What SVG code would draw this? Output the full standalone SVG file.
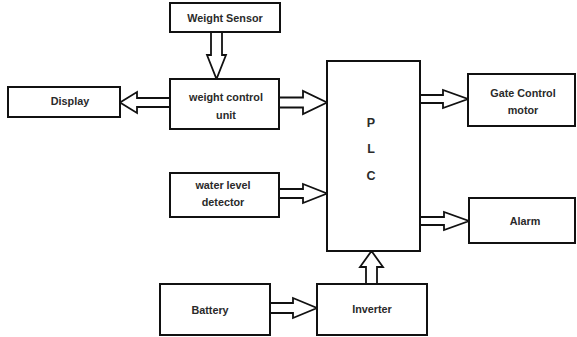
<svg xmlns="http://www.w3.org/2000/svg" width="577" height="337" viewBox="0 0 577 337">
<style>
.box{fill:#fff;stroke:#111;stroke-width:2}
.arr{fill:#fff;stroke:#111;stroke-width:1.8;stroke-linejoin:miter}
text{font-family:"Liberation Sans",Arial,sans-serif;font-weight:bold;font-size:10.8px;fill:#2a2a2a;text-anchor:middle}
.plc{font-size:12.5px}
</style>
<rect width="577" height="337" fill="#fff"/>
<g id="connectors">
<polygon class="arr" points="211,32 222,32 222,55 226,55 216.5,79 207,55 211,55"/>
<polygon class="arr" points="170,98 137,98 137,92 120,102.5 137,113 137,107 170,107"/>
<polygon class="arr" points="279,97.5 303,97.5 303,91 327,102.5 303,114 303,107.5 279,107.5"/>
<polygon class="arr" points="420,95 443,95 443,90 468,99 443,108 443,103 420,103"/>
<polygon class="arr" points="420,217 444,217 444,212 469,221 444,230 444,225 420,225"/>
<polygon class="arr" points="279,189 303,189 303,184 327,193.5 303,203 303,198 279,198"/>
<polygon class="arr" points="270,303 293,303 293,298 317,308 293,318 293,313 270,313"/>
<polygon class="arr" points="366,284 366,267 360,267 371.5,251 383,267 377,267 377,284"/>
</g>
<g id="weight-sensor"><rect class="box" x="170" y="3" width="110" height="29"/><text x="225" y="21.5">Weight Sensor</text></g>
<g id="weight-control-unit"><rect class="box" x="170" y="79" width="109" height="50"/><text x="226" y="100.5">weight control</text><text x="226" y="118.5">unit</text></g>
<g id="display"><rect class="box" x="8" y="87" width="112" height="30"/><text x="70" y="105">Display</text></g>
<g id="plc"><rect class="box" x="327" y="61" width="93" height="190"/><text class="plc" x="371" y="126.5">P</text><text class="plc" x="371" y="152.5">L</text><text class="plc" x="371" y="179.5">C</text></g>
<g id="gate-control-motor"><rect class="box" x="468" y="74" width="107" height="52"/><text x="523" y="96.5">Gate Control</text><text x="523" y="113.5">motor</text></g>
<g id="alarm"><rect class="box" x="469" y="198" width="106" height="45"/><text x="525" y="224.5">Alarm</text></g>
<g id="water-level-detector"><rect class="box" x="170" y="173" width="109" height="44"/><text x="223" y="188.5">water level</text><text x="223" y="205.5">detector</text></g>
<g id="battery"><rect class="box" x="160" y="284" width="110" height="51"/><text x="210" y="313.5">Battery</text></g>
<g id="inverter"><rect class="box" x="317" y="284" width="110" height="51"/><text x="372" y="312.5">Inverter</text></g>
</svg>
